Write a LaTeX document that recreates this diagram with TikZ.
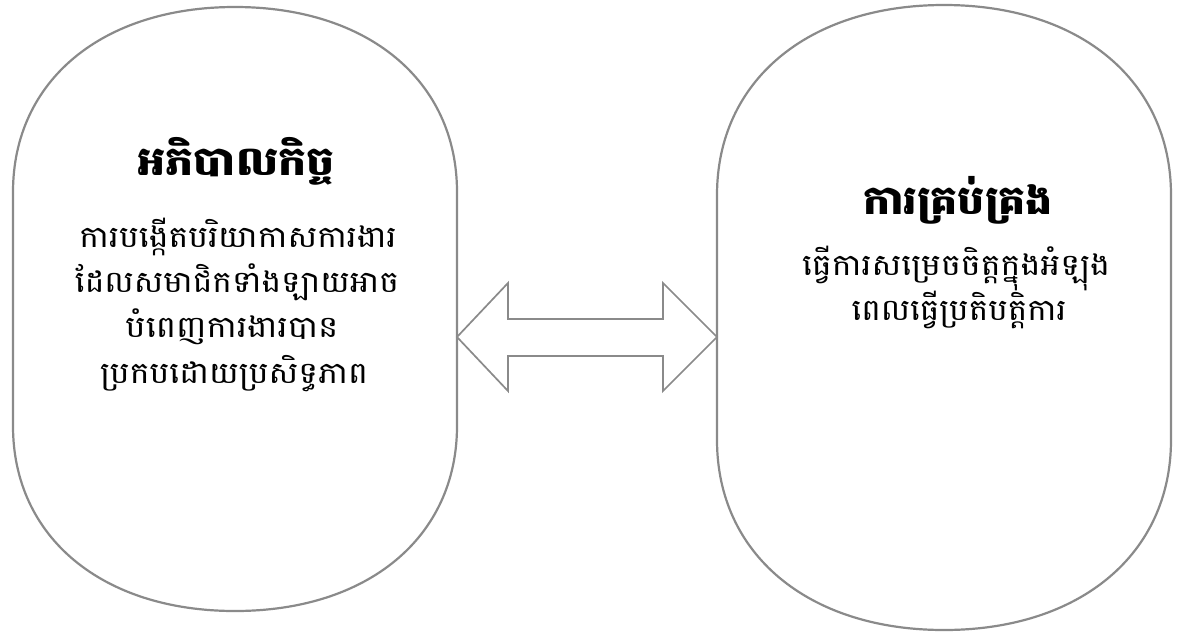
\documentclass[tikz,border=0pt]{standalone}
\usepackage{fontspec}
\usepackage{graphicx}
\usetikzlibrary{calc}
\newfontfamily\khmer[Script=Khmer]{Battambang}
\definecolor{edge}{HTML}{8A8A8A}
\newcommand{\fitw}[2]{\resizebox{#1}{\height}{#2}}
\tikzset{
  shapeline/.style={draw=edge, line width=2.2pt, fill=white},
  arrowline/.style={draw=edge, line width=1.7pt, fill=white, line join=miter},
  titletext/.style={font=\khmer\bfseries\fontsize{40}{46}\selectfont, anchor=base, inner sep=0pt},
  bodytext/.style={font=\khmer\fontsize{30}{36}\selectfont, anchor=base, inner sep=0pt},
}
\begin{document}
\begin{tikzpicture}[x=1pt, y=-1pt]
\useasboundingbox (0,0) rectangle (1177,635);
% left stadium
\draw[shapeline] (13,192) .. controls (13,81) and (101.8,7) .. (235,7)
  .. controls (368.2,7) and (457,81) .. (457,192) -- (457,426)
  .. controls (457,537) and (368.2,611) .. (235,611)
  .. controls (101.8,611) and (13,537) .. (13,426) -- cycle;
% right stadium
\draw[shapeline] (717,195) .. controls (717,81) and (807.8,5) .. (944,5)
  .. controls (1080.2,5) and (1171,81) .. (1171,195) -- (1171,440)
  .. controls (1171,554) and (1080.2,630) .. (944,630)
  .. controls (807.8,630) and (717,554) .. (717,440) -- cycle;
% double arrow
\coordinate (L) at (457,337);
\coordinate (R) at (717,337);
\draw[arrowline] (L) -- ($(L)+(51,-54)$) -- ($(L)+(51,-18)$) -- ($(R)+(-54,-18)$)
  -- ($(R)+(-54,-54)$) -- (R) -- ($(R)+(-54,54)$) -- ($(R)+(-54,19)$)
  -- ($(L)+(51,19)$) -- ($(L)+(51,54)$) -- cycle;
% left texts
\node[titletext] (lt) at (236,175) {\fitw{197pt}{អភិបាលកិច្ច}};
\node[bodytext] (l1) at (238,247) {\fitw{317pt}{ការបង្កើតបរិយាកាសការងារ}};
\node[bodytext] (l2) at (237,292) {\fitw{324pt}{ដែលសមាជិកទាំងឡាយអាច}};
\node[bodytext] (l3) at (232,337) {\fitw{213pt}{បំពេញការងារបាន}};
\node[bodytext] (l4) at (234,383) {\fitw{268pt}{ប្រកបដោយប្រសិទ្ធភាព}};
% right texts
\node[titletext] (rt) at (958,214) {\fitw{190pt}{ការគ្រប់គ្រង}};
\node[bodytext] (r1) at (956,275) {\fitw{308pt}{ធ្វើការសម្រេចចិត្តក្នុងអំឡុង}};
\node[bodytext] (r2) at (959,320) {\fitw{215pt}{ពេលធ្វើប្រតិបត្តិការ}};
\end{tikzpicture}
\end{document}
